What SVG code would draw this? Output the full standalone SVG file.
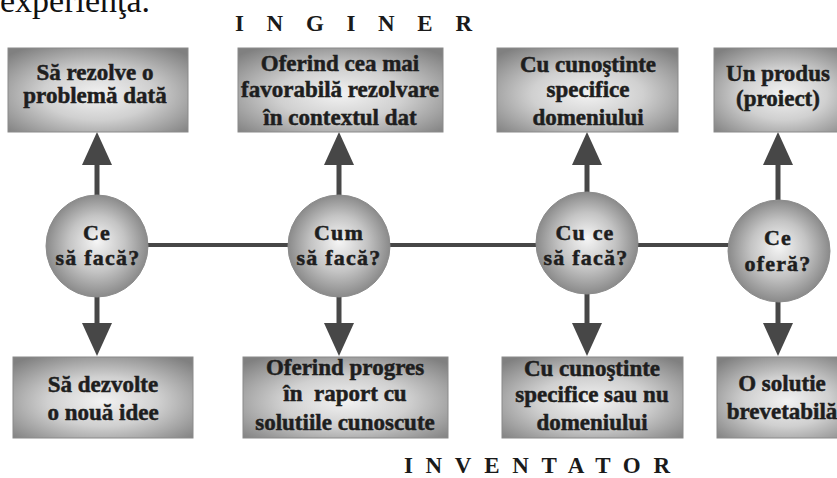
<svg xmlns="http://www.w3.org/2000/svg" width="837" height="478" viewBox="0 0 837 478">
  <defs>
    <radialGradient id="metal" cx="0.5" cy="0.55" r="0.68">
      <stop offset="0" stop-color="#f2f2f2"/>
      <stop offset="0.45" stop-color="#d0d0d0"/>
      <stop offset="1" stop-color="#808080"/>
    </radialGradient>
    <radialGradient id="sphere" cx="0.5" cy="0.5" r="0.5" fx="0.5" fy="0.45">
      <stop offset="0" stop-color="#f6f6f6"/>
      <stop offset="0.55" stop-color="#c4c4c4"/>
      <stop offset="1" stop-color="#8a8a8a"/>
    </radialGradient>
    <marker id="head" markerUnits="userSpaceOnUse" markerWidth="33" markerHeight="30" refX="0" refY="15" orient="auto" viewBox="0 0 33 30">
      <path d="M0,0 L33,15 L0,30 Z" fill="#474747"/>
    </marker>
    <style>
      .box { fill: url(#metal); stroke: #8a8a8a; stroke-width: 1; }
      .ball { fill: url(#sphere); stroke: #8c8c8c; stroke-width: 1; }
      .lbl { font-family: "Liberation Serif", "Times New Roman", serif; font-weight: bold; font-size: 23px; fill: #1e1e1e; stroke: #1e1e1e; stroke-width: 0.5px; text-anchor: middle; }
      .q { font-family: "Liberation Serif", "Times New Roman", serif; font-weight: bold; font-size: 22px; fill: #1e1e1e; stroke: #1e1e1e; stroke-width: 0.5px; text-anchor: middle; letter-spacing: 1.2px; }
      .title { font-family: "Liberation Serif", "Times New Roman", serif; font-weight: bold; font-size: 23px; fill: #1a1a1a; }
      .conn { stroke: #474747; fill: none; }
      .spine { stroke-width: 4; }
      .arrow { stroke-width: 5; marker-end: url(#head); }
    </style>
  </defs>

  <rect width="837" height="478" fill="#ffffff"/>

  <!-- tail of the preceding paragraph -->
  <text x="0" y="12" font-family="Liberation Serif, serif" font-size="34" fill="#111">experienţa.</text>

  <!-- row headings -->
  <text class="title" x="235" y="31" textLength="237" lengthAdjust="spacing">INGINER</text>
  <text class="title" x="404" y="473" textLength="266" lengthAdjust="spacing">INVENTATOR</text>

  <!-- connectors -->
  <g id="connectors">
    <line class="conn spine" x1="147" y1="245" x2="729" y2="245"/>
    <line class="conn arrow" x1="97" y1="196" x2="97" y2="165"/>
    <line class="conn arrow" x1="339" y1="196" x2="339" y2="165"/>
    <line class="conn arrow" x1="587" y1="193" x2="587" y2="165"/>
    <line class="conn arrow" x1="778" y1="200" x2="778" y2="165"/>
    <line class="conn arrow" x1="97" y1="296" x2="97" y2="323"/>
    <line class="conn arrow" x1="339" y1="296" x2="339" y2="323"/>
    <line class="conn arrow" x1="587" y1="293" x2="587" y2="323"/>
    <line class="conn arrow" x1="778" y1="300" x2="778" y2="323"/>
  </g>

  <!-- question nodes -->
  <g id="q-ce">
    <circle class="ball" cx="97" cy="246" r="51"/>
    <text class="q" x="97" y="240">Ce</text>
    <text class="q" x="98" y="265">să facă?</text>
  </g>
  <g id="q-cum">
    <circle class="ball" cx="339" cy="246" r="51"/>
    <text class="q" x="339" y="240">Cum</text>
    <text class="q" x="339" y="265">să facă?</text>
  </g>
  <g id="q-cu-ce">
    <circle class="ball" cx="587" cy="243" r="51"/>
    <text class="q" x="585" y="240">Cu ce</text>
    <text class="q" x="586" y="265">să facă?</text>
  </g>
  <g id="q-ofera">
    <circle class="ball" cx="779" cy="251" r="51"/>
    <text class="q" x="778" y="245">Ce</text>
    <text class="q" x="778" y="271">oferă?</text>
  </g>

  <!-- engineer row -->
  <g id="ing-ce">
    <rect class="box" x="8" y="48" width="180" height="84"/>
    <text class="lbl" x="95" y="80">Să rezolve o</text>
    <text class="lbl" x="95" y="103">problemă dată</text>
  </g>
  <g id="ing-cum">
    <rect class="box" x="238" y="48" width="205" height="84"/>
    <text class="lbl" x="340" y="71">Oferind cea mai</text>
    <text class="lbl" x="340" y="97">favorabilă rezolvare</text>
    <text class="lbl" x="340" y="125">în contextul dat</text>
  </g>
  <g id="ing-cu-ce">
    <rect class="box" x="497" y="48" width="181" height="84"/>
    <text class="lbl" x="588" y="72">Cu cunoştinte</text>
    <text class="lbl" x="588" y="97">specifice</text>
    <text class="lbl" x="588" y="125">domeniului</text>
  </g>
  <g id="ing-ofera">
    <rect class="box" x="714" y="48" width="140" height="84"/>
    <text class="lbl" x="778" y="81">Un produs</text>
    <text class="lbl" x="778" y="106">(proiect)</text>
  </g>

  <!-- inventor row -->
  <g id="inv-ce">
    <rect class="box" x="13" y="357" width="180" height="81"/>
    <text class="lbl" x="103" y="392">Să dezvolte</text>
    <text class="lbl" x="103" y="420">o nouă idee</text>
  </g>
  <g id="inv-cum">
    <rect class="box" x="243" y="357" width="205" height="81"/>
    <text class="lbl" x="345" y="375">Oferind progres</text>
    <text class="lbl" x="345" y="401" xml:space="preserve">în  raport cu</text>
    <text class="lbl" x="345" y="430">solutiile cunoscute</text>
  </g>
  <g id="inv-cu-ce">
    <rect class="box" x="502" y="357" width="181" height="81"/>
    <text class="lbl" x="592" y="376">Cu cunoştinte</text>
    <text class="lbl" x="592" y="402">specifice sau nu</text>
    <text class="lbl" x="592" y="430">domeniului</text>
  </g>
  <g id="inv-ofera">
    <rect class="box" x="717" y="357" width="140" height="81"/>
    <text class="lbl" x="782" y="391">O solutie</text>
    <text class="lbl" x="782" y="419">brevetabilă</text>
  </g>
</svg>
